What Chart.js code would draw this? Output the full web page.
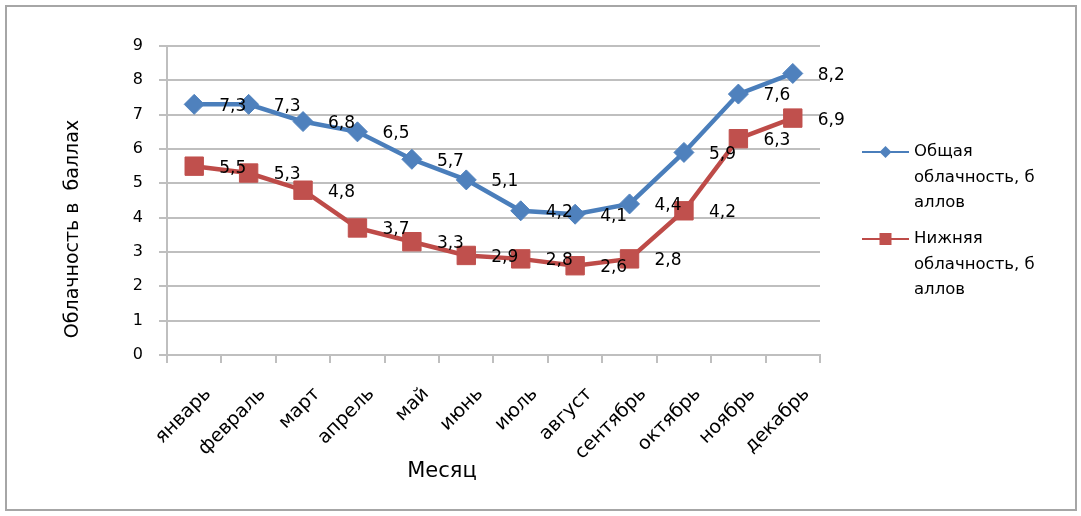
<!DOCTYPE html>
<html>
<head>
<meta charset="utf-8">
<title>Облачность по месяцам</title>
<script src="https://cdn.jsdelivr.net/npm/chart.js"></script>
<style>
    body {
        margin: 0;
        background: #fff;
        font-family: "DejaVu Sans", sans-serif;
    }

    .frame {
        position: absolute;
        left: 5px;
        top: 5px;
        width: 1068px;
        height: 502px;
        border: 2px solid #a6a6a6;
    }

    .wrap {
        position: absolute;
        left: 0;
        top: 0;
        width: 1081px;
        height: 516px;
    }
</style>
</head>
<body>
<div class="frame"></div>
<div class="wrap"><canvas id="chart"></canvas></div>
<script>
    // данные с графика
    const months = ['январь', 'февраль', 'март', 'апрель', 'май', 'июнь',
        'июль', 'август', 'сентябрь', 'октябрь', 'ноябрь', 'декабрь'];
    const totalCloud = [7.3, 7.3, 6.8, 6.5, 5.7, 5.1, 4.2, 4.1, 4.4, 5.9, 7.6, 8.2];
    const lowCloud = [5.5, 5.3, 4.8, 3.7, 3.3, 2.9, 2.8, 2.6, 2.8, 4.2, 6.3, 6.9];
    const seriesNames = ['Общая облачность, баллов', 'Нижняя облачность, баллов'];
    const legendLines = [['Общая', 'облачность, б', 'аллов'], ['Нижняя', 'облачность, б', 'аллов']];
    const yMin = 0, yMax = 9, yStep = 1;
    const yTitle = 'Облачность в  баллах';
    const xTitle = 'Месяц';

    const FONT = '"DejaVu Sans", Verdana, sans-serif';
    const GRID = '#bfbfbf';

    // подписи значений справа от точек
    const valueLabels = {
        id: 'valueLabels',
        afterDatasetsDraw(chart) {
            const ctx = chart.ctx;
            ctx.save();
            ctx.font = '17px ' + FONT;
            ctx.fillStyle = '#000';
            ctx.textAlign = 'left';
            ctx.textBaseline = 'middle';
            chart.data.datasets.forEach((ds, i) => {
                chart.getDatasetMeta(i).data.forEach((pt, j) => {
                    ctx.fillText(String(ds.data[j]).replace('.', ','), pt.x + 25, pt.y + 2);
                });
            });
            ctx.restore();
        }
    };

    // названия осей (в оригинале смещены относительно центра)
    const axisTitles = {
        id: 'axisTitles',
        afterDraw(chart) {
            const ctx = chart.ctx;
            ctx.save();
            ctx.fillStyle = '#000';
            ctx.textAlign = 'center';
            ctx.textBaseline = 'middle';
            ctx.font = '21px ' + FONT;
            ctx.fillText(xTitle, 442, 472);
            ctx.translate(73, 229);
            ctx.rotate(-Math.PI / 2);
            ctx.font = '19px ' + FONT;
            ctx.fillText(yTitle, 0, 0);
            ctx.restore();
        }
    };

    // легенда справа, с переносом строк как в оригинале
    const sideLegend = {
        id: 'sideLegend',
        afterDraw(chart) {
            const ctx = chart.ctx;
            const x0 = 862, x1 = 909;
            const tops = [152, 239];
            ctx.save();
            chart.data.datasets.forEach((ds, i) => {
                const y = tops[i];
                ctx.strokeStyle = ds.borderColor;
                ctx.lineWidth = 2;
                ctx.beginPath();
                ctx.moveTo(x0, y);
                ctx.lineTo(x1, y);
                ctx.stroke();
                ctx.fillStyle = ds.pointBackgroundColor;
                const cx = (x0 + x1) / 2;
                ctx.beginPath();
                if (ds.pointStyle === 'rectRot') {
                    ctx.moveTo(cx, y - 6);
                    ctx.lineTo(cx + 6, y);
                    ctx.lineTo(cx, y + 6);
                    ctx.lineTo(cx - 6, y);
                    ctx.closePath();
                } else {
                    ctx.rect(cx - 6, y - 6, 12, 12);
                }
                ctx.fill();
                ctx.fillStyle = '#000';
                ctx.font = '16.5px ' + FONT;
                ctx.textAlign = 'left';
                ctx.textBaseline = 'middle';
                legendLines[i].forEach((line, k) => {
                    ctx.fillText(line, 914, y + k * 25.5);
                });
            });
            ctx.restore();
        }
    };

    new Chart(document.getElementById('chart'), {
        type: 'line',
        data: {
            labels: months,
            datasets: [{
                label: seriesNames[0],
                data: totalCloud,
                borderColor: '#4A7EBB',
                borderWidth: 4.5,
                pointStyle: 'rectRot',
                pointRadius: 10,
                pointBackgroundColor: '#4F81BD',
                pointBorderColor: '#4F81BD',
                pointBorderWidth: 1,
                tension: 0
            }, {
                label: seriesNames[1],
                data: lowCloud,
                borderColor: '#BE4B48',
                borderWidth: 4.5,
                pointStyle: 'rect',
                pointRadius: 13,
                pointBackgroundColor: '#C0504D',
                pointBorderColor: '#C0504D',
                pointBorderWidth: 1,
                tension: 0
            }]
        },
        options: {
            responsive: true,
            maintainAspectRatio: false,
            animation: false,
            events: [],
            layout: {
                padding: { left: 60, right: 261, top: 46, bottom: 30 }
            },
            plugins: {
                legend: { display: false },
                tooltip: { enabled: false }
            },
            scales: {
                x: {
                    offset: true,
                    afterFit(scale) { scale.height = 131; },
                    grid: {
                        offset: true,
                        drawOnChartArea: false,
                        drawTicks: true,
                        tickLength: 8,
                        color: GRID,
                        lineWidth: 2
                    },
                    border: { color: GRID, width: 2 },
                    ticks: {
                        minRotation: 45,
                        maxRotation: 45,
                        padding: 20,
                        labelOffset: 14,
                        color: '#000',
                        font: { family: FONT, size: 19 }
                    }
                },
                y: {
                    min: yMin,
                    max: yMax,
                    afterFit(scale) { scale.width = 107; },
                    grid: {
                        color: GRID,
                        lineWidth: 2,
                        tickLength: 8
                    },
                    border: { color: GRID, width: 2 },
                    ticks: {
                        stepSize: yStep,
                        padding: 16,
                        color: '#000',
                        font: { family: FONT, size: 16 }
                    }
                }
            }
        },
        plugins: [valueLabels, axisTitles, sideLegend]
    });
</script>
</body>
</html>
